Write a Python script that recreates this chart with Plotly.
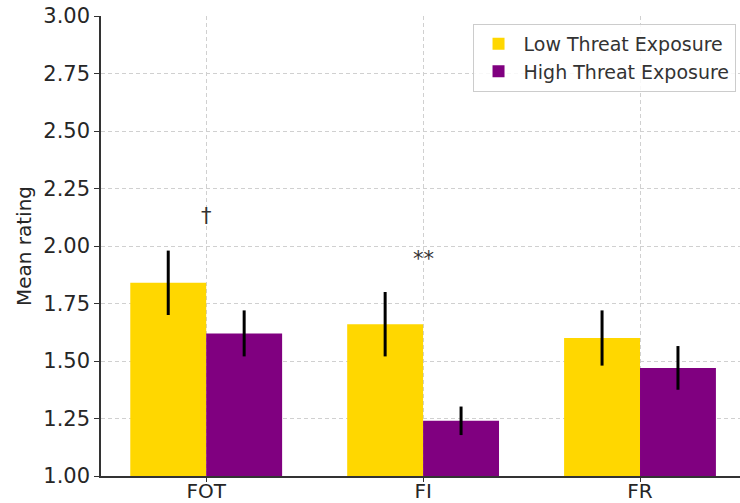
import plotly.graph_objects as go

categories = ["FOT", "FI", "FR"]
low_means = [1.84, 1.66, 1.60]
low_errs = [0.14, 0.14, 0.12]
high_means = [1.62, 1.24, 1.47]
high_errs = [0.10, 0.062, 0.095]
sig_labels = ["†", "**", ""]
series_names = ["Low Threat Exposure", "High Threat Exposure"]
colors = ["#FFD700", "#800080"]

fig = go.Figure()
for name, means, errs, col in zip(series_names, [low_means, high_means],
                                  [low_errs, high_errs], colors):
    fig.add_trace(go.Bar(
        x=categories, y=means, name=name,
        marker=dict(color=col, line=dict(width=0)),
        error_y=dict(type="data", array=errs, color="black",
                     thickness=3, width=0),
    ))

for i, (cat, lab) in enumerate(zip(categories, sig_labels)):
    if not lab:
        continue
    top = max(low_means[i] + low_errs[i], high_means[i] + high_errs[i])
    fig.add_annotation(x=cat, y=top + 0.15, text=lab, showarrow=False,
                       yanchor="middle", xanchor="center",
                       font=dict(size=21, color="#333333",
                                 family="DejaVu Sans"),
                       yshift=-1 if lab == "**" else 0)

grid = dict(showgrid=True, gridcolor="#d0d0d0", gridwidth=1,
            griddash="4px,3px")
fig.update_layout(
    width=740, height=503,
    margin=dict(l=101, r=0, t=16, b=27, autoexpand=False),
    paper_bgcolor="white", plot_bgcolor="white",
    barmode="group", bargap=0.3, bargroupgap=0,
    font=dict(family="DejaVu Sans", color="#262626"),
    showlegend=True,
    legend=dict(x=0.993, y=0.983, xanchor="right", yanchor="top",
                bgcolor="rgba(255,255,255,0.85)", bordercolor="#cccccc",
                borderwidth=1, font=dict(size=19, color="#333333"),
                itemwidth=40, traceorder="normal", tracegroupgap=2),
    xaxis=dict(range=[-0.485, 2.461], showline=True, linecolor="#333333",
               linewidth=1.5, ticks="outside", ticklen=4, tickcolor="#333333",
               tickfont=dict(size=20), automargin=False,
               ticklabelstandoff=-8, **grid),
    yaxis=dict(range=[1, 3], dtick=0.25, tickformat=".2f", showline=True,
               linecolor="#333333", linewidth=1.5, ticks="outside", ticklen=5,
               tickcolor="#333333", tickfont=dict(size=21), automargin=False,
               title=dict(text="Mean rating", font=dict(size=20), standoff=6),
               zeroline=False, **grid),
)
fig.write_html("out.html")
